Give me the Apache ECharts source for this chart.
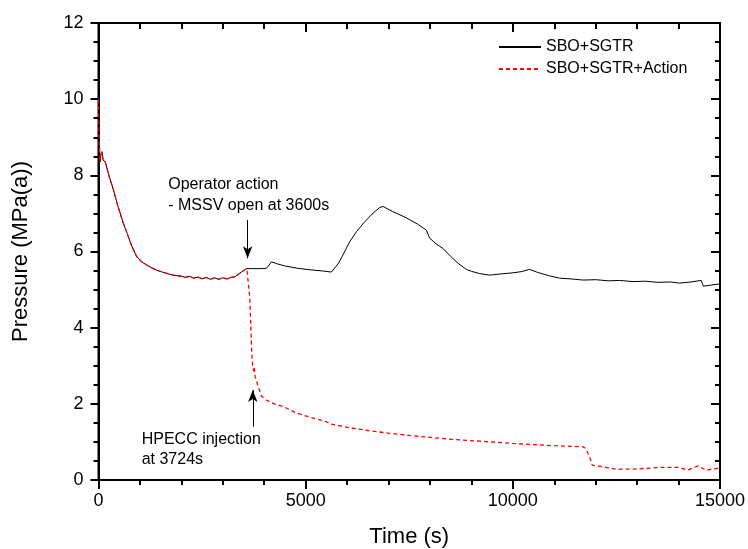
<!DOCTYPE html>
<html>
<head>
<meta charset="utf-8">
<script src="https://cdn.jsdelivr.net/npm/echarts@6/dist/echarts.min.js"></script>
<style>html,body{margin:0;padding:0;background:#fff}#c{width:748px;height:549px}</style>
</head>
<body>
<div id="c"></div>
<script>
// Shared early transient (both cases identical until ~3600 s)
var earlyTime = [0,15,35,60,85,110,160,250,360,480,600,700,800,920,1040,1200,1400,1600,1800,2000,2100,2200,2300,2400,2500,2600,2700,2800,2900,3000,3100,3200,3300,3400,3500,3580];
var earlyP    = [10.0,9.0,8.35,8.55,8.62,8.4,8.36,8.0,7.62,7.15,6.74,6.45,6.15,5.87,5.73,5.62,5.51,5.44,5.38,5.35,5.32,5.35,5.30,5.33,5.28,5.32,5.27,5.31,5.27,5.31,5.28,5.32,5.34,5.42,5.5,5.55];
// SBO+SGTR after 3600 s
var sgtrTime = [3700,3900,4050,4100,4175,4300,4500,4800,5100,5400,5620,5800,6065,6225,6400,6600,6790,6870,7100,7400,7700,7914,7994,8150,8315,8500,8700,8879,9000,9200,9441,9700,10000,10200,10405,10600,10888,11128,11400,11700,12000,12300,12575,12900,13200,13500,13800,14022,14300,14545,14600,14800,15000];
var sgtrP    = [5.55,5.55,5.56,5.62,5.73,5.68,5.62,5.56,5.52,5.49,5.46,5.7,6.26,6.52,6.75,6.98,7.16,7.18,7.05,6.9,6.72,6.56,6.35,6.2,6.08,5.87,5.67,5.53,5.48,5.42,5.38,5.41,5.44,5.47,5.53,5.45,5.36,5.30,5.28,5.25,5.26,5.23,5.24,5.21,5.22,5.19,5.20,5.17,5.2,5.24,5.09,5.12,5.15];
// SBO+SGTR+Action after 3600 s
var actTime = [3600,3650,3680,3700,3724,3745,3760,3780,3855,3935,4050,4215,4457,4778,5100,5500,5600,6025,6500,7000,7500,8000,8500,9198,9988,10500,11000,11690,11756,11852,11917,12172,12495,13000,13540,14022,14223,14464,14665,15000];
var actP    = [5.54,4.8,3.9,3.3,2.95,2.85,2.95,2.72,2.45,2.2,2.1,2.01,1.93,1.76,1.65,1.53,1.47,1.38,1.30,1.23,1.17,1.12,1.07,1.02,0.96,0.93,0.9,0.875,0.83,0.61,0.39,0.35,0.28,0.29,0.33,0.33,0.26,0.37,0.26,0.32];

var xTicks = [0,5000,10000,15000];
var yTicks = [0,2,4,6,8,10,12];

function pairs(t, p){ var o=[]; for(var i=0;i<t.length;i++) o.push([t[i],p[i]]); return o; }
var sgtrData = pairs(earlyTime, earlyP).concat(pairs(sgtrTime, sgtrP));
var actData = pairs(earlyTime, earlyP).concat(pairs(actTime, actP));

var FONT = 'Liberation Sans, Arial, sans-serif';
var chart = echarts.init(document.getElementById('c'));
function aLine(){ return {show:true, onZero:false, lineStyle:{color:'#000', width:2}}; }
function tick(inside, len){ return {show:true, inside:inside, length:len, lineStyle:{color:'#000', width:2}}; }
function minor(n, len){ return {show:true, splitNumber:n, length:len, lineStyle:{color:'#000', width:2}}; }
chart.setOption({
  animation:false,
  backgroundColor:'#fff',
  grid:{left:98.5, right:28, top:23, bottom:69, containLabel:false, outerBoundsMode:'none'},
  legend:{
    orient:'vertical', left:493, top:34, itemWidth:42, itemHeight:14, itemGap:6,
    itemStyle:{opacity:0},
    textStyle:{fontFamily:FONT, fontSize:16, color:'#000'},
    data:[{name:'SBO+SGTR'},{name:'SBO+SGTR+Action'}]
  },
  xAxis:[{
    type:'value', min:0, max:15000, interval:5000,
    name:'Time (s)', nameLocation:'middle', nameGap:46,
    nameTextStyle:{fontFamily:FONT, fontSize:22, color:'#000'},
    axisLine:aLine(), axisTick:tick(false, 9), minorTick:minor(5, 5),
    axisLabel:{fontFamily:FONT, fontSize:18, color:'#000', margin:12,
      formatter:function(v){ return xTicks.indexOf(v)>=0 ? String(v) : ''; }},
    splitLine:{show:false}, minorSplitLine:{show:false}
  },{
    type:'value', min:0, max:15000, interval:5000, position:'top',
    axisLine:aLine(), axisTick:tick(true, 9), minorTick:minor(5, 6),
    axisLabel:{show:false}, splitLine:{show:false}
  }],
  yAxis:[{
    type:'value', min:0, max:12, interval:2,
    name:'Pressure (MPa(a))', nameLocation:'middle', nameGap:67,
    nameTextStyle:{fontFamily:FONT, fontSize:22, color:'#000'},
    axisLine:aLine(), axisTick:tick(false, 8), minorTick:minor(4, 5),
    axisLabel:{fontFamily:FONT, fontSize:18, color:'#000', margin:15,
      formatter:function(v){ return yTicks.indexOf(v)>=0 ? String(v) : ''; }},
    splitLine:{show:false}, minorSplitLine:{show:false}
  },{
    type:'value', min:0, max:12, interval:2, position:'right',
    axisLine:aLine(), axisTick:tick(true, 9), minorTick:minor(4, 5),
    axisLabel:{show:false}, splitLine:{show:false}
  }],
  series:[{
    name:'SBO+SGTR', type:'line', data:sgtrData, showSymbol:false, symbol:'none',
    lineStyle:{color:'#000', width:1}, itemStyle:{color:'#000'}, z:2,
    markLine:{silent:true, symbol:['none','arrow'], symbolSize:[7,12], label:{show:false},
      lineStyle:{color:'#000', width:1, type:'solid'},
      data:[
        [{coord:[3600,6.83]},{coord:[3600,5.82]}],
        [{coord:[3724,1.4]},{coord:[3724,2.36]}]
      ]}
  },{
    name:'SBO+SGTR+Action', type:'line', data:actData, showSymbol:false, symbol:'none',
    lineStyle:{color:'#ff0000', width:1.3, type:[4,3]}, itemStyle:{color:'#ff0000'}, z:3
  }]
});

function place(){
  var a = chart.convertToPixel({xAxisIndex:0, yAxisIndex:0}, [1683, 7.75]);
  var b = chart.convertToPixel({xAxisIndex:0, yAxisIndex:0}, [1042, 1.05]);
  var p0 = chart.convertToPixel({xAxisIndex:0, yAxisIndex:0}, [0, 0]);
  var p1 = chart.convertToPixel({xAxisIndex:0, yAxisIndex:0}, [15000, 12]);
  chart.setOption({graphic:[
    {type:'rect', z:0, silent:true, shape:{x:p0[0], y:p1[1], width:p1[0]-p0[0], height:p0[1]-p1[1]},
      style:{fill:'none', stroke:'#000', lineWidth:2}},
    {type:'text', left:a[0], top:a[1]-10.5, style:{text:'Operator action\n- MSSV open at 3600s', fontFamily:FONT, fontSize:16, lineHeight:21, fill:'#000'}},
    {type:'text', left:b[0], top:b[1]-10, style:{text:'HPECC injection\nat 3724s', fontFamily:FONT, fontSize:16, lineHeight:19.5, fill:'#000'}}
  ]});
}
place();
</script>
</body>
</html>
